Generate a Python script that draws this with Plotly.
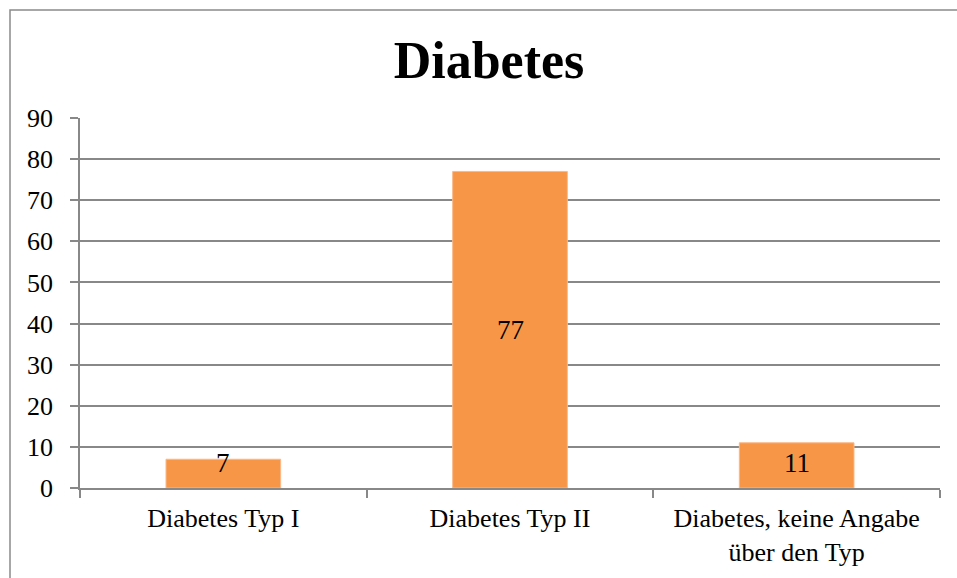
import plotly.graph_objects as go

# Chart data
categories = ["Diabetes Typ I", "Diabetes Typ II", "Diabetes, keine Angabe<br>über den Typ"]
values = [7, 77, 11]
y_ticks = [0, 10, 20, 30, 40, 50, 60, 70, 80, 90]

BAR_COLOR = "#F79646"
GRID_COLOR = "#888888"
FONT = "Liberation Serif"

W, H = 957, 578
L, R, T, B = 80, 17, 118, 90

fig = go.Figure()
fig.add_trace(go.Bar(
    x=categories,
    y=values,
    width=0.4,
    marker=dict(color=BAR_COLOR, line=dict(color="#FAB98A", width=1)),
    hoverinfo="x+y",
))

# Value labels centred on each bar, kept clear of the baseline for short bars
min_label_center = 6.2
for cat, v in zip(categories, values):
    fig.add_annotation(
        x=cat, y=max(v / 2, min_label_center), text=str(v),
        showarrow=False, xref="x", yref="y",
        font=dict(family=FONT, size=27, color="black"),
    )

# Outer chart frame
plot_w, plot_h = W - L - R, H - T - B
def px_x(p):
    return (p - L) / plot_w
def px_y(p):
    return (H - B - p) / plot_h

fig.add_shape(
    type="rect", xref="paper", yref="paper",
    x0=px_x(10), x1=px_x(W + 5), y0=px_y(H + 5), y1=px_y(10),
    line=dict(color="#8a8a8a", width=1.5), fillcolor="rgba(0,0,0,0)",
    layer="below",
)

fig.update_layout(
    width=W, height=H,
    margin=dict(l=L, r=R, t=T, b=B),
    paper_bgcolor="white", plot_bgcolor="white",
    showlegend=False,
    bargap=0.6,
    title=dict(
        text="<b>Diabetes</b>",
        x=489 / W, xanchor="center", xref="container",
        y=1 - 60 / H, yanchor="middle", yref="container",
        font=dict(family=FONT, size=52, color="black"),
    ),
    font=dict(family=FONT, color="black"),
)

fig.update_xaxes(
    type="category",
    showline=True, linecolor=GRID_COLOR, linewidth=1.5,
    ticks="outside", tickson="boundaries", ticklen=8,
    tickcolor=GRID_COLOR, tickwidth=1.5,
    tickfont=dict(family=FONT, size=26, color="black"),
    ticklabelstandoff=6,
    showgrid=False,
)

fig.update_yaxes(
    range=[0, 90],
    tickvals=y_ticks,
    ticktext=[str(t) for t in y_ticks],
    showline=True, linecolor=GRID_COLOR, linewidth=1.5,
    ticks="outside", ticklen=8, tickcolor=GRID_COLOR, tickwidth=1.5,
    showgrid=True, gridcolor=GRID_COLOR, gridwidth=1.5,
    zeroline=False,
    tickfont=dict(family=FONT, size=26, color="black"),
    ticklabelstandoff=12,
)

fig.write_html("out.html")
